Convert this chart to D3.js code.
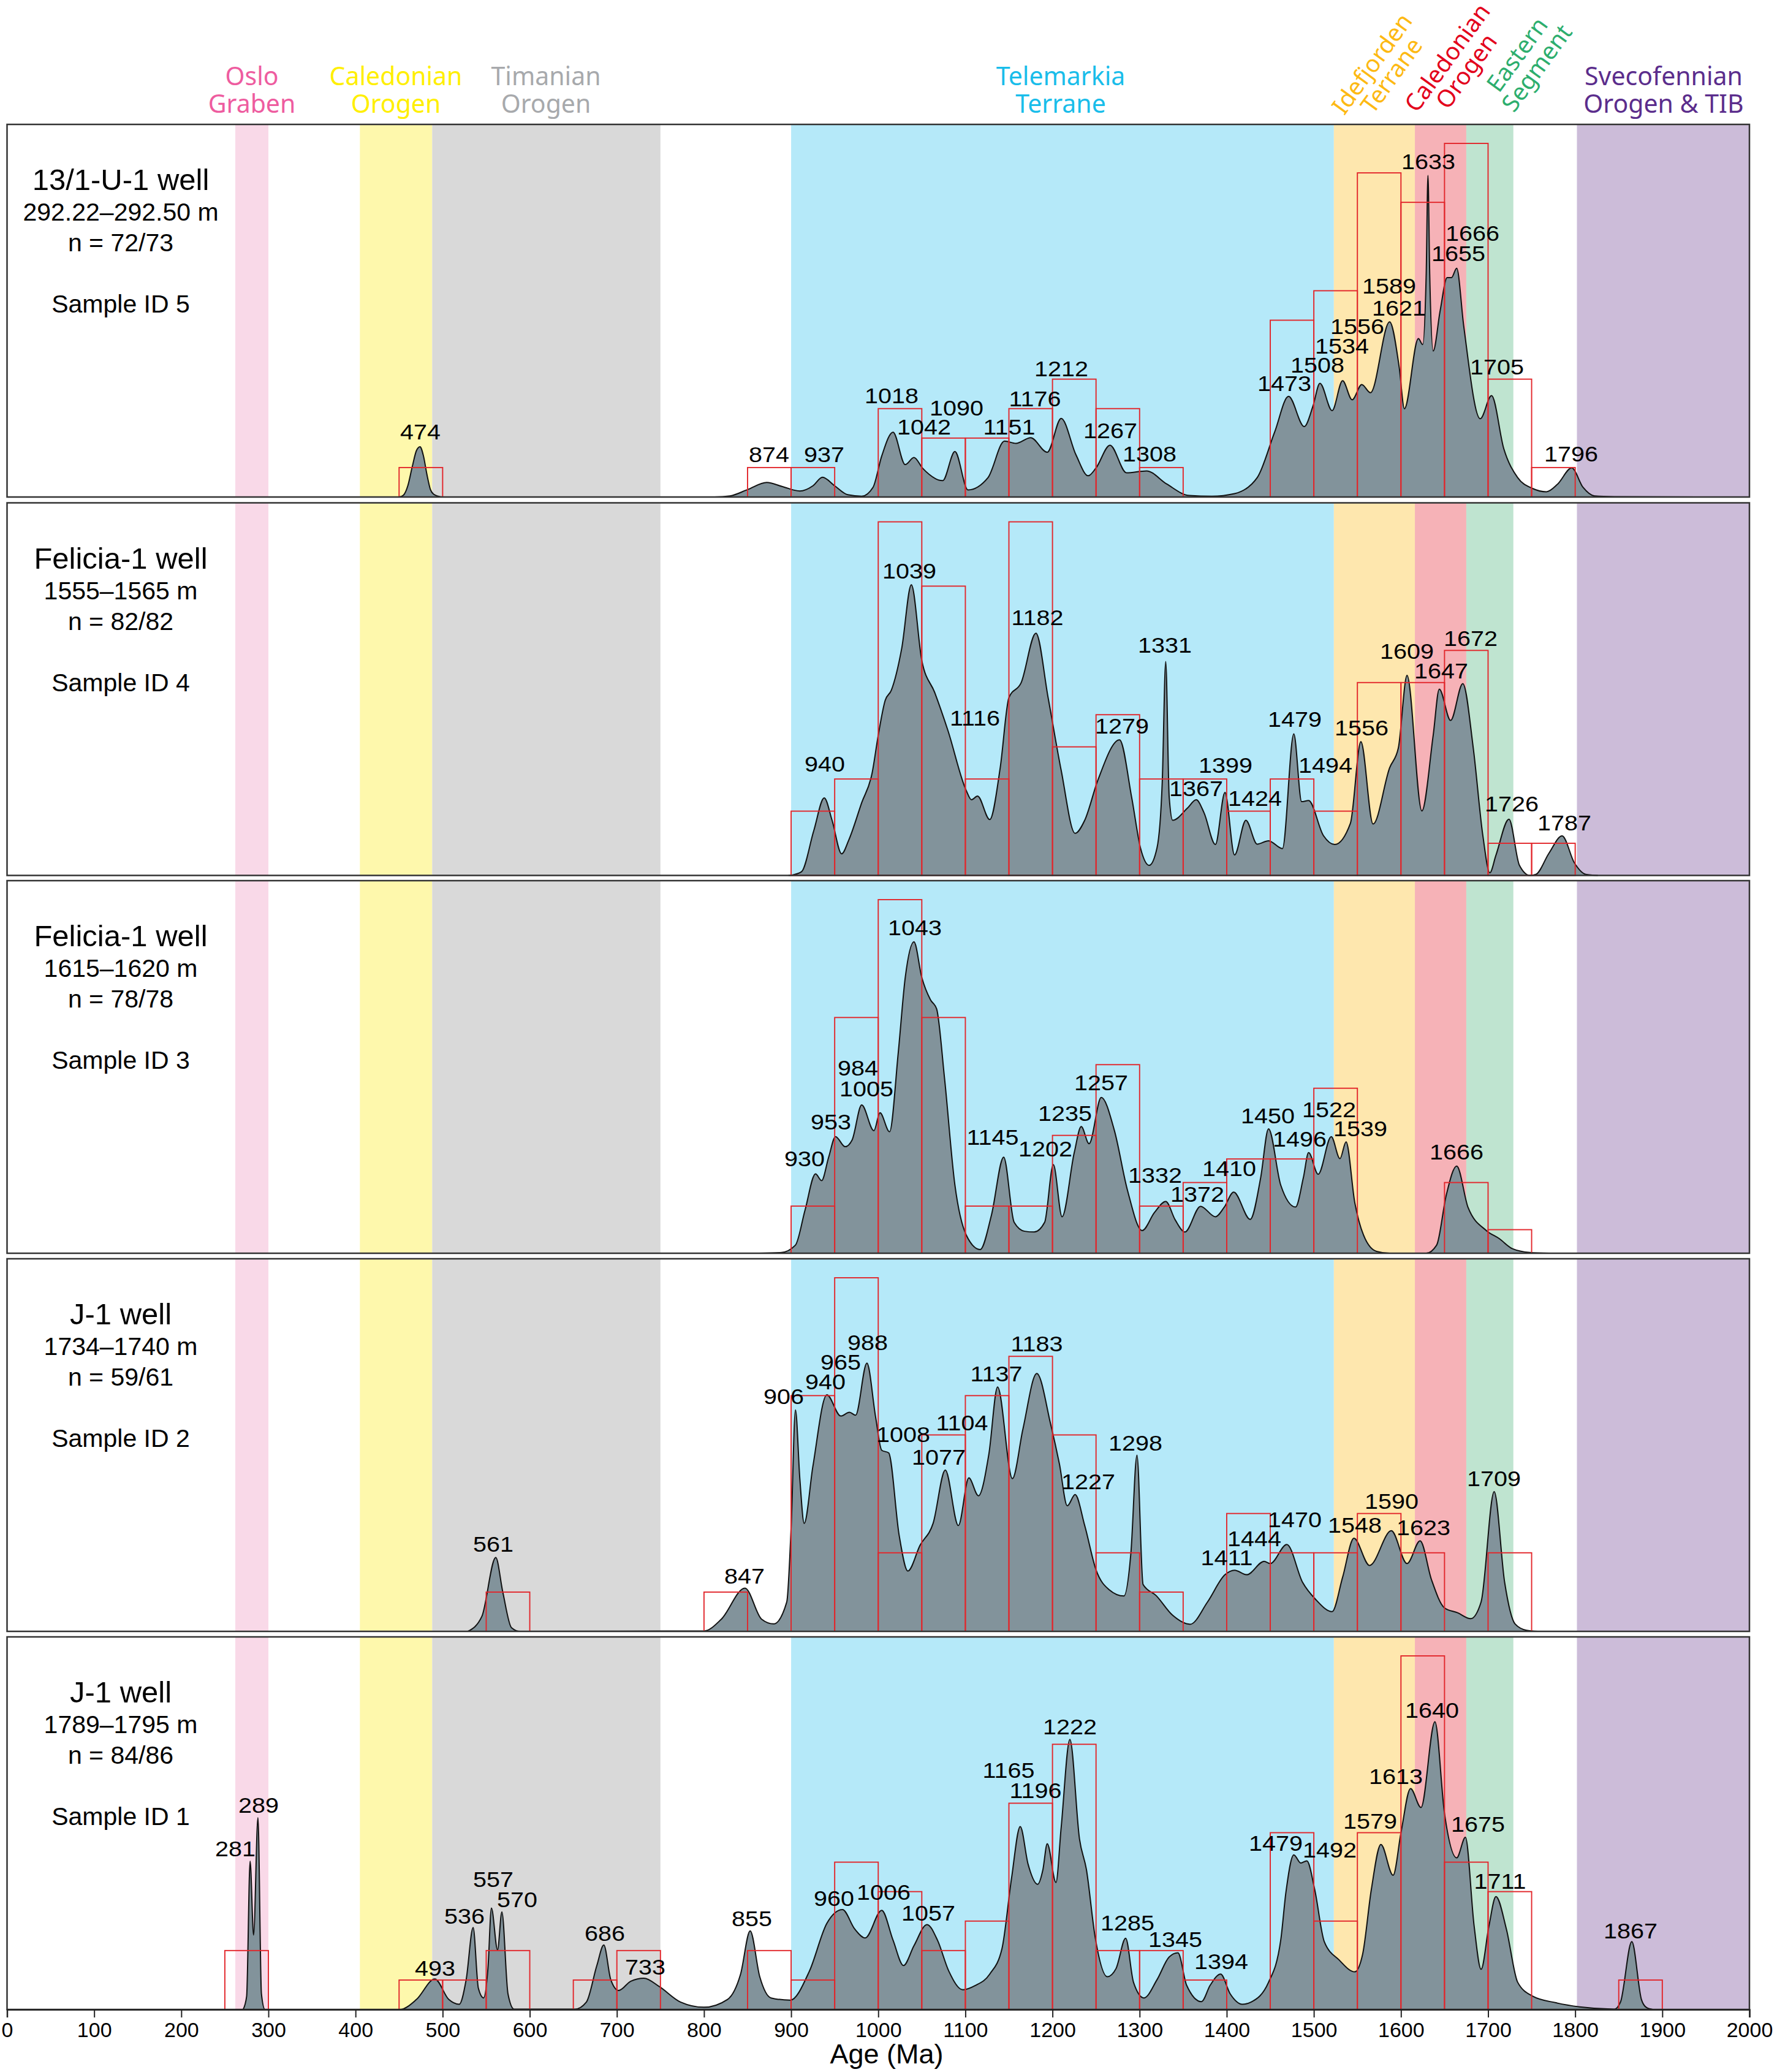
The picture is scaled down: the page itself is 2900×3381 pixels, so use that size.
<!DOCTYPE html>
<html>
<head>
<meta charset="utf-8">
<script src="https://cdn.jsdelivr.net/npm/d3@7"></script>
<style>
	body { margin: 0; background: #fff; }
	text { font-family: "Liberation Sans", Arial, sans-serif; fill: #000; }
	.region { font-family: "Noto Sans", sans-serif; font-size: 41px; }
</style>
</head>
<body>
<div id="chart"></div>
<script>
// sample captions, top panel first
const wells = ["13/1-U-1 well", "Felicia-1 well", "Felicia-1 well", "J-1 well", "J-1 well"];
const depths = ["292.22–292.50 m", "1555–1565 m", "1615–1620 m", "1734–1740 m", "1789–1795 m"];
const counts = ["n = 72/73", "n = 82/82", "n = 78/78", "n = 59/61", "n = 84/86"];
const sampleIds = ["Sample ID 5", "Sample ID 4", "Sample ID 3", "Sample ID 2", "Sample ID 1"];

// terrane bands in Ma
const bandStart = [262, 405, 488, 900, 1523, 1616, 1675, 1802];
const bandEnd = [300, 488, 750, 1523, 1616, 1675, 1729, 2000];

const xTicks = d3.range(0, 2001, 100);

// histogram, 50 Ma bins: bin start age and number of grains
const binStart1 = [450, 850, 900, 1000, 1050, 1100, 1150, 1200, 1250, 1300, 1450, 1500, 1550, 1600, 1650, 1700, 1750];
const binCount1 = [1, 1, 1, 3, 2, 2, 3, 4, 3, 1, 6, 7, 11, 10, 12, 4, 1];
const binStart2 = [900, 950, 1000, 1050, 1100, 1150, 1200, 1250, 1300, 1350, 1400, 1450, 1500, 1550, 1600, 1650, 1700, 1750];
const binCount2 = [2, 3, 11, 9, 3, 11, 4, 5, 3, 3, 2, 3, 2, 6, 6, 7, 1, 1];
const binStart3 = [900, 950, 1000, 1050, 1100, 1150, 1200, 1250, 1300, 1350, 1400, 1450, 1500, 1650, 1700];
const binCount3 = [2, 10, 15, 10, 2, 2, 5, 8, 2, 3, 4, 4, 7, 3, 1];
const binStart4 = [550, 800, 900, 950, 1000, 1050, 1100, 1150, 1200, 1250, 1300, 1400, 1450, 1500, 1550, 1600, 1700];
const binCount4 = [1, 1, 6, 9, 2, 5, 6, 7, 5, 2, 1, 3, 2, 2, 3, 2, 2];
const binStart5 = [250, 450, 500, 550, 650, 700, 850, 900, 950, 1000, 1050, 1100, 1150, 1200, 1250, 1300, 1350, 1450, 1500, 1550, 1600, 1650, 1700, 1850];
const binCount5 = [2, 1, 1, 2, 1, 2, 2, 1, 5, 4, 2, 3, 7, 9, 2, 2, 1, 6, 3, 6, 12, 5, 4, 1];

// density curves, density as % of panel height
const kdeAge1 = [450, 455, 460, 465, 470, 474, 478, 482, 486, 490, 495, 500,
	812, 830, 850, 872, 890, 910, 925, 936, 950, 965, 981, 994, 1004, 1017,
	1031, 1041, 1051, 1074, 1088, 1103, 1126, 1145, 1158, 1175, 1194, 1210,
	1227, 1241, 1250, 1266, 1285, 1308, 1331, 1357, 1383, 1409, 1435, 1455,
	1471, 1489, 1499, 1507, 1521, 1533, 1544, 1555, 1565, 1587, 1598, 1604,
	1620, 1625, 1629, 1631, 1633, 1637, 1645, 1653, 1658, 1664, 1672, 1691,
	1704, 1718, 1734, 1751, 1767, 1780, 1796, 1809, 1822, 1845, 1940];
const kdeDen1 = [0, 0.5, 3, 8, 12.5, 13.5, 11, 6, 2, 0.7, 0.2, 0,
	0, 0.3, 2, 3.9, 2.8, 1.6, 3, 5.3, 3, 0.6, 0.2, 2.6, 11, 17.4,
	8.7, 10.6, 7.7, 4.4, 12.2, 1.9, 5.2, 15, 14.4, 15.9, 12, 21.1,
	11.3, 5.7, 7.8, 13.9, 6.5, 7, 3.5, 0.4, 0.2, 0.9, 5.2, 17.4,
	27, 18.9, 24.4, 30.5, 23.2, 31.2, 26.1, 30.2, 28, 47, 34.8, 23.7,
	42.5, 40.9, 60, 86.3, 60, 39.2, 50, 58.9, 58.9, 61.4, 46, 21,
	27.2, 13, 5.2, 2.3, 1.4, 3.5, 7.8, 2.6, 0.3, 0.1, 0];

const kdeAge2 = [897, 901, 912, 926, 938, 947, 958, 966, 981, 993, 1000, 1008, 1015, 1027, 1038,
	1050, 1065, 1080, 1101, 1107, 1114, 1128, 1140, 1150, 1164, 1181, 1195,
	1210, 1226, 1237, 1252, 1277, 1291, 1301, 1311, 1320, 1326, 1330, 1334,
	1338, 1355, 1365, 1374, 1387, 1398, 1409, 1422, 1435, 1448, 1464, 1477,
	1486, 1494, 1511, 1524, 1542, 1554, 1568, 1587, 1597, 1607, 1624, 1637,
	1644, 1657, 1671, 1683, 1694, 1702, 1709, 1724, 1736, 1748, 1755, 1770,
	1785, 1799, 1812, 1826];
const kdeDen2 = [0, 0.1, 1, 12, 20.8, 14.8, 5.8, 9.4, 19.5, 27.5, 37.6, 47, 49.7, 61, 78,
	57.7, 49, 38.9, 22.8, 20.3, 21.3, 15, 28.9, 47.7, 51.7, 65, 47.7,
	28.2, 11.3, 14.8, 25.5, 36.4, 20.8, 7.4, 2.7, 7.4, 25, 57.4, 21,
	14.8, 18.1, 20.3, 16.8, 8.3, 22.3, 5.5, 14.8, 8.4, 9.3, 7.2, 38,
	19.8, 20.1, 10.7, 8.3, 14, 35.9, 13.8, 28.9, 34.2, 53.7, 17.3, 37.6,
	50, 41.6, 51.5, 34.2, 10.7, 0.7, 5.4, 15.1, 2.7, 0, 0.3, 6,
	10.6, 3.4, 0.3, 0];

const kdeAge3 = [863, 889, 905, 916, 928, 935, 943, 951, 962, 970, 981, 995, 1002, 1013,
	1023, 1031, 1041, 1050, 1060, 1067, 1076, 1088, 1101, 1117, 1130, 1144,
	1156, 1168, 1179, 1191, 1201, 1211, 1225, 1233, 1242, 1256, 1271, 1286,
	1303, 1317, 1330, 1341, 1352, 1370, 1387, 1397, 1408, 1427, 1439, 1448,
	1462, 1479, 1488, 1494, 1505, 1520, 1530, 1537, 1547, 1557, 1572, 1587,
	1629, 1641, 1652, 1664, 1677, 1698, 1713, 1728, 1748, 1770];
const kdeDen3 = [0, 0.2, 2.2, 11.6, 21.3, 19.5, 25.7, 31.3, 28.6, 30.4, 39.8, 32.9, 37.7, 32.6,
	53.9, 74, 83.6, 74, 68, 65.6, 47.2, 18.3, 4.9, 1, 10.3, 25.8,
	8.3, 5.9, 5.7, 8.3, 23.8, 9.8, 27, 34, 29.4, 41.8, 33, 17,
	6.1, 10.9, 13.9, 8.9, 5.7, 12.6, 9.8, 12.3, 16.4, 9.1, 20.3, 33.4,
	18.3, 12.4, 20.3, 27, 21.2, 31.3, 25.4, 29.9, 13.6, 4.9, 0.5, 0,
	0, 2.2, 15.6, 23.4, 12.3, 6.1, 3.9, 1.2, 0.2, 0];

const kdeAge4 = [529, 545, 561, 569, 579, 589,
	800, 820, 847, 866, 880, 895, 900, 905, 910, 915, 925, 941, 957, 967,
	974, 987, 997, 1004, 1012, 1024, 1034, 1048, 1063, 1077, 1092, 1104,
	1115, 1127, 1137, 1154, 1166, 1182, 1198, 1208, 1217, 1226, 1237, 1250,
	1265, 1282, 1290, 1297, 1304, 1319, 1338, 1358, 1378, 1398, 1409, 1423,
	1443, 1450, 1469, 1487, 1502, 1521, 1533, 1546, 1564, 1589, 1607, 1622,
	1635, 1650, 1665, 1680, 1692, 1707, 1719, 1731, 1744, 1757];
const kdeDen4 = [0, 4, 19.8, 10.6, 1, 0,
	0.1, 3.3, 11.6, 3.3, 2, 7.9, 27.8, 59.4, 41, 29, 44.3, 63.5, 57.8, 58.8,
	58, 72, 57.5, 48.6, 47.9, 25.8, 16.2, 23.1, 29, 43.3, 28.4, 41.2,
	36.4, 47.6, 65.6, 41, 54.2, 69.2, 55.5, 44.9, 33.7, 36.7, 28.4, 16.5,
	11.2, 9.5, 21, 47.3, 12.6, 9.6, 4.3, 1.9, 7.9, 15.2, 16.4, 15.2,
	18.8, 18.2, 23.3, 13.2, 8.6, 5.3, 14.5, 25, 17.7, 27, 18.2, 24.3,
	13.9, 6.3, 5, 3.4, 7.9, 37.5, 13.2, 2, 0.3, 0];

const kdeAge5 = [271, 275, 279, 283, 288, 292, 296,
	451, 470, 491, 507, 519, 527, 535, 541, 547, 552, 556, 563, 568, 575, 582,
	652, 665, 677, 685, 693, 702, 716, 731, 749, 773, 800, 827, 842, 853, 864, 877,
	899, 921, 941, 959, 973, 985, 1004, 1017, 1029, 1041, 1056, 1068, 1081, 1097,
	1111, 1128, 1142, 1153, 1163, 1172, 1183, 1189, 1194, 1204, 1210, 1220, 1231,
	1239, 1249, 1263, 1273, 1284, 1293, 1305, 1320, 1334, 1344, 1354, 1371, 1381,
	1393, 1404, 1418, 1428, 1448, 1462, 1468, 1477, 1485, 1492, 1501, 1512, 1529,
	1547, 1556, 1566, 1577, 1591, 1600, 1611, 1623, 1639, 1650, 1664, 1674, 1684,
	1692, 1701, 1709, 1721, 1734, 1751, 1778, 1805, 1845, 1852, 1865, 1876, 1882, 1889];
const kdeDen5 = [0, 3.5, 39.8, 20, 51.5, 4.2, 0,
	0, 2.7, 8.2, 2.7, 1.4, 8, 22, 5.7, 3.1, 11, 27.2, 16, 26.2, 4.2, 0.1,
	0.1, 2, 11.8, 17.3, 8, 5.1, 7.6, 8.4, 6.1, 2, 0.6, 2.7, 9.5, 21.1, 8.8, 3.1,
	2.5, 10.3, 23.1, 26.8, 21.6, 19.2, 26.6, 18.6, 11.8, 17.1, 22.8, 18.6, 10.3, 5.3,
	6.4, 9.5, 16.3, 35.2, 49.1, 39, 33.6, 37.5, 44.5, 34.1, 48.9, 72.5, 45.8,
	37.5, 19.4, 8.8, 11, 19.1, 7.3, 3.1, 8, 14.1, 15.2, 6.5, 2.1, 6.5,
	9.5, 4.2, 1.4, 2, 7.3, 18.6, 31.5, 41.5, 39.3, 39.9, 32.2, 18.2, 13.3,
	10.1, 14.8, 32.2, 44.3, 36, 47.4, 59.3, 54.2, 77.2, 52.6, 40.7, 46.2, 22.4,
	10.8, 22.4, 30.3, 21.6, 7.3, 3.6, 1.8, 0.7, 0.1, 2, 18.2, 2.7, 0.5, 0];

// peak ages printed on the curves
const peaks1 = [474, 874, 937, 1018, 1042, 1090, 1151, 1176, 1212, 1267, 1308, 1473, 1508, 1534, 1556, 1589, 1621, 1633, 1666, 1655, 1705, 1796];
const peaks2 = [940, 1039, 1116, 1182, 1279, 1331, 1367, 1399, 1424, 1479, 1494, 1556, 1609, 1647, 1672, 1726, 1787];
const peaks3 = [930, 953, 984, 1005, 1043, 1145, 1202, 1235, 1257, 1332, 1372, 1410, 1450, 1496, 1522, 1539, 1666];
const peaks4 = [561, 847, 906, 940, 965, 988, 1008, 1077, 1104, 1137, 1183, 1227, 1298, 1411, 1444, 1470, 1548, 1590, 1623, 1709];
const peaks5 = [281, 289, 493, 536, 557, 570, 686, 733, 855, 960, 1006, 1057, 1165, 1196, 1222, 1285, 1345, 1394, 1479, 1492, 1579, 1613, 1640, 1675, 1711, 1867];

// ---- layout, nothing below this line is data ----
const width = 2900, height = 3381;
const panelTops = [203, 820.5, 1437, 2054, 2671];
const panelH = 608;

const bandColors = ["#F9D9E8", "#FEF8AC", "#D9D9D9", "#B5E9F9", "#FEE7AE", "#F6B2B7", "#BFE4D0", "#CCBCD9"];

// hand placed label spots, [centre x, text baseline] in page pixels
const peakSpots = [
	[[686,717],[1255,754],[1345,754],[1455,658],[1508,709],[1561,678],[1647,709],[1689,663],[1732,614],[1812,715],[1876,753],[2096,638],[2150,608],[2190,577],[2215,545],[2267,479],[2283,515],[2331,276],[2403,393],[2380,426],[2443,611],[2564,753]],
	[[1346,1259],[1484,944],[1591,1184],[1693,1020],[1831,1197],[1901,1065],[1952,1299],[2000,1261],[2048,1315],[2113,1186],[2163,1261],[2222,1200],[2296,1075],[2352,1107],[2400,1054],[2467,1324],[2553,1355]],
	[[1313,1903],[1356,1843],[1400,1755],[1414,1789],[1493,1526],[1620,1868],[1706,1887],[1738,1829],[1797,1779],[1885,1930],[1954,1961],[2006,1919],[2069,1833],[2121,1871],[2169,1823],[2220,1854],[2377,1892]],
	[[805,2532],[1215,2584],[1279,2291],[1347,2267],[1372,2235],[1416,2203],[1474,2353],[1532,2390],[1570,2334],[1626,2254],[1692,2205],[1776,2430],[1853,2367],[2002,2554],[2047,2523],[2113,2492],[2211,2501],[2271,2462],[2323,2505],[2438,2425]],
	[[384,3029],[422,2958],[710,3224],[758,3139],[805,3079],[844,3112],[987,3167],[1053,3222],[1227,3143],[1361,3110],[1442,3100],[1515,3134],[1646,2901],[1690,2934],[1746,2830],[1840,3150],[1918,3177],[1993,3213],[2082,3020],[2170,3031],[2236,2984],[2278,2911],[2337,2803],[2412,2989],[2448,3082],[2661,3163]]
];

let svg = d3.select("#chart").append("svg")
	.attr("width", width)
	.attr("height", height)
	.style("display", "block");

let x = d3.scaleLinear().domain([0, 2000]).range([11.5, 2855]);

let histos = [[binStart1, binCount1], [binStart2, binCount2], [binStart3, binCount3], [binStart4, binCount4], [binStart5, binCount5]];
let kdes = [[kdeAge1, kdeDen1], [kdeAge2, kdeDen2], [kdeAge3, kdeDen3], [kdeAge4, kdeDen4], [kdeAge5, kdeDen5]];
let peaks = [peaks1, peaks2, peaks3, peaks4, peaks5];

panelTops.forEach(function(top, i){
	let g = svg.append("g").attr("transform", "translate(0," + top + ")");

	// density is % of panel height
	let yKde = d3.scaleLinear().domain([0, 100]).range([panelH, 0]);
	// tallest bar always sits at about 95% of the panel
	let maxCount = d3.max(histos[i][1]);
	let yHist = d3.scaleLinear().domain([0, maxCount / 0.949]).range([panelH, 0]);

	g.selectAll("rect.band")
		.data(bandStart)
		.enter().append("rect")
		.attr("class", "band")
		.attr("x", function(d){ return x(d); })
		.attr("width", function(d, j){ return x(bandEnd[j]) - x(d); })
		.attr("y", 0)
		.attr("height", panelH)
		.attr("fill", function(d, j){ return bandColors[j]; });

	let kde = d3.zip(kdes[i][0], kdes[i][1]);
	let area = d3.area()
		.x(function(d){ return x(d[0]); })
		.y0(panelH)
		.y1(function(d){ return yKde(d[1]); })
		.curve(d3.curveMonotoneX);
	let line = d3.line()
		.x(function(d){ return x(d[0]); })
		.y(function(d){ return yKde(d[1]); })
		.curve(d3.curveMonotoneX);

	g.append("path").attr("d", area(kde)).attr("fill", "#82939B");
	g.append("path").attr("d", line(kde)).attr("fill", "none").attr("stroke", "#111").attr("stroke-width", 2);

	// histogram outlines go over the curve
	g.selectAll("rect.bin")
		.data(histos[i][0])
		.enter().append("rect")
		.attr("class", "bin")
		.attr("x", function(d){ return x(d); })
		.attr("width", function(d){ return x(d + 50) - x(d); })
		.attr("y", function(d, j){ return yHist(histos[i][1][j]); })
		.attr("height", function(d, j){ return panelH - yHist(histos[i][1][j]); })
		.attr("fill", "none")
		.attr("stroke", "#E2262B")
		.attr("stroke-width", 1.9);

	g.append("rect")
		.attr("width", x(2000) - x(0))
		.attr("x", x(0))
		.attr("height", panelH)
		.attr("fill", "none")
		.attr("stroke", "#333")
		.attr("stroke-width", 2.5);

	// well caption
	let cx = 197;
	g.append("text").attr("x", cx).attr("y", 107).attr("text-anchor", "middle").style("font-size", "49px").text(wells[i]);
	g.append("text").attr("x", cx).attr("y", 157).attr("text-anchor", "middle").style("font-size", "41px").text(depths[i]);
	g.append("text").attr("x", cx).attr("y", 207).attr("text-anchor", "middle").style("font-size", "41px").text(counts[i]);
	g.append("text").attr("x", cx).attr("y", 307).attr("text-anchor", "middle").style("font-size", "41px").text(sampleIds[i]);

	// peak labels are a bit wider than the plain font
	svg.selectAll("text.p" + i)
		.data(peaks[i])
		.enter().append("text")
		.attr("class", "p" + i)
		.attr("text-anchor", "middle")
		.attr("transform", function(d, j){
			return "translate(" + peakSpots[i][j][0] + "," + peakSpots[i][j][1] + ") scale(1.13,1)";
		})
		.style("font-size", "35px")
		.text(function(d){ return d; });
});

// axis under the last panel
let axis = d3.axisBottom(x)
	.tickValues(xTicks)
	.tickSize(13)
	.tickPadding(8)
	.tickFormat(d3.format("d"));
let axisG = svg.append("g")
	.attr("transform", "translate(0," + (panelTops[4] + panelH) + ")")
	.call(axis);
axisG.select(".domain").attr("stroke", "#222").attr("stroke-width", 2.5);
axisG.selectAll(".tick line").attr("stroke", "#222").attr("stroke-width", 2);
axisG.selectAll(".tick text").style("font-size", "34px").style("font-family", "Liberation Sans").attr("fill", "#000");

svg.append("text")
	.attr("x", 1447)
	.attr("y", 3367)
	.attr("text-anchor", "middle")
	.style("font-size", "45px")
	.text("Age (Ma)");

// region names above the panels
function regionLabel(lines, cx, color){
	svg.selectAll(null)
		.data(lines)
		.enter().append("text")
		.attr("class", "region")
		.attr("x", cx)
		.attr("y", function(d, j){ return 139 + j * 45; })
		.attr("text-anchor", "middle")
		.style("fill", color)
		.text(function(d){ return d; });
}
regionLabel(["Oslo", "Graben"], 411, "#EE5C9F");
regionLabel(["Caledonian", "Orogen"], 646, "#FFEF00");
regionLabel(["Timanian", "Orogen"], 891, "#A7A9AC");
regionLabel(["Telemarkia", "Terrane"], 1731, "#19BDEA");
regionLabel(["Svecofennian", "Orogen & TIB"], 2715, "#5B2D8C");

// cx, cy is the middle of the text baseline
function slantLabel(word, cx, cy, color){
	svg.append("text")
		.attr("class", "region")
		.attr("text-anchor", "middle")
		.attr("transform", "translate(" + cx + "," + cy + ") rotate(-54)")
		.style("fill", color)
		.style("font-size", "39px")
		.text(word);
}
slantLabel("Idefjorden", 2250, 112, "#FDB913");
slantLabel("Terrane", 2282, 131, "#FDB913");
slantLabel("Caledonian", 2373, 102, "#E3001B");
slantLabel("Orogen", 2404, 124, "#E3001B");
slantLabel("Eastern", 2487, 97, "#2DAE6E");
slantLabel("Segment", 2519, 119, "#2DAE6E");
</script>
</body>
</html>
